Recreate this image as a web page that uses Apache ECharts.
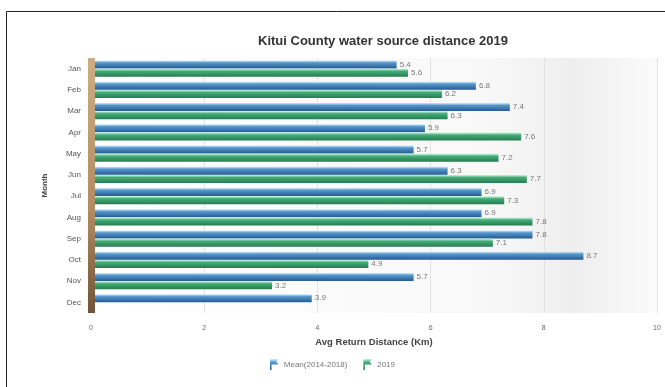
<!DOCTYPE html>
<html>
<head>
<meta charset="utf-8">
<script src="https://cdn.jsdelivr.net/npm/echarts@6/dist/echarts.min.js"></script>
<style>
html, body { margin: 0; padding: 0; background: #fff; }
#chart { width: 665px; height: 387px; }
</style>
</head>
<body>
<div id="chart"></div>
<script>
// data
var months = ['Jan', 'Feb', 'Mar', 'Apr', 'May', 'Jun', 'Jul', 'Aug', 'Sep', 'Oct', 'Nov', 'Dec'];
var meanValues = [5.4, 6.8, 7.4, 5.9, 5.7, 6.3, 6.9, 6.9, 7.8, 8.7, 5.7, 3.9];
var values2019 = [5.6, 6.2, 6.3, 7.6, 7.2, 7.7, 7.3, 7.8, 7.1, 4.9, 3.2, null];
var xTicks = [0, 2, 4, 6, 8, 10];

var chart = echarts.init(document.getElementById('chart'));

function barGrad(light, mid, dark) {
	return new echarts.graphic.LinearGradient(0, 0, 0, 1, [
		{ offset: 0, color: light },
		{ offset: 0.3, color: mid },
		{ offset: 1, color: dark }
	]);
}

var flag = 'path://M0,0 L2,0 L2,14 L0,14 Z M2,0 L11,0 L8,3.5 L11,7 L2,7 Z';
var labelStyle = {
	show: true,
	position: 'right',
	distance: 3,
	fontSize: 8,
	color: '#777',
	fontFamily: 'Liberation Sans',
	formatter: function(p) { return p.value == null ? '' : p.value.toFixed(1); }
};

var option = {
	backgroundColor: '#fff',
	textStyle: { fontFamily: 'Liberation Sans' },
	title: {
		text: 'Kitui County water source distance 2019',
		left: 378,
		textAlign: 'center',
		top: 30,
		textStyle: { fontSize: 13, fontWeight: 'bold', color: '#333', fontFamily: 'Liberation Sans' }
	},
	legend: {
		bottom: 12,
		left: 'center',
		itemWidth: 9,
		itemHeight: 11,
		itemGap: 16,
		icon: flag,
		textStyle: { fontSize: 8, color: '#777' },
		data: ['Mean(2014-2018)', '2019']
	},
	grid: {
		left: 91,
		right: 8,
		top: 58,
		bottom: 74,
		show: true,
		borderWidth: 0,
		backgroundColor: new echarts.graphic.LinearGradient(0, 0, 1, 0, [
			{ offset: 0, color: '#ffffff' },
			{ offset: 0.7, color: '#f8f8f8' },
			{ offset: 0.85, color: '#eeeeee' },
			{ offset: 1, color: '#fbfbfb' }
		])
	},
	xAxis: {
		type: 'value',
		min: xTicks[0],
		max: xTicks[xTicks.length - 1],
		interval: 2,
		name: 'Avg Return Distance (Km)',
		nameLocation: 'middle',
		nameGap: 21,
		nameTextStyle: { fontSize: 9.5, fontWeight: 'bold', color: '#444' },
		axisLine: { show: false },
		axisTick: { show: false },
		axisLabel: { fontSize: 7, color: '#666', margin: 12 },
		splitLine: { show: true, lineStyle: { color: '#e2e2e2', width: 1 } }
	},
	yAxis: {
		type: 'category',
		data: months,
		inverse: true,
		z: 3,
		name: 'Month',
		nameLocation: 'middle',
		nameGap: 42,
		nameTextStyle: { fontSize: 8, fontWeight: 'bold', color: '#444' },
		axisLine: {
			show: true,
			lineStyle: {
				width: 7,
				cap: 'butt',
				color: new echarts.graphic.LinearGradient(0, 0, 0, 1, [
					{ offset: 0, color: '#cfae84' },
					{ offset: 0.6, color: '#b08a60' },
					{ offset: 1, color: '#6e5236' }
				])
			}
		},
		axisTick: { show: false },
		axisLabel: { fontSize: 8, color: '#555', margin: 10 },
		splitLine: { show: false }
	},
	series: [
		{
			name: 'Mean(2014-2018)',
			type: 'bar',
			data: meanValues,
			barWidth: 8,
			barGap: '5%',
			itemStyle: { color: barGrad('#d4f0fb', '#5597cf', '#275b90') },
			label: labelStyle
		},
		{
			name: '2019',
			type: 'bar',
			data: values2019,
			barWidth: 8,
			itemStyle: { color: barGrad('#c8f5e2', '#43ad78', '#287a50') },
			label: labelStyle
		}
	],
	color: ['#3a7ab8', '#3a9c6a'],
	graphic: [
		{
			type: 'rect',
			silent: true,
			shape: { x: 6.5, y: 11.5, width: 700, height: 400 },
			style: { fill: 'none', stroke: '#222', lineWidth: 1 }
		}
	]
};

chart.setOption(option);
</script>
</body>
</html>
